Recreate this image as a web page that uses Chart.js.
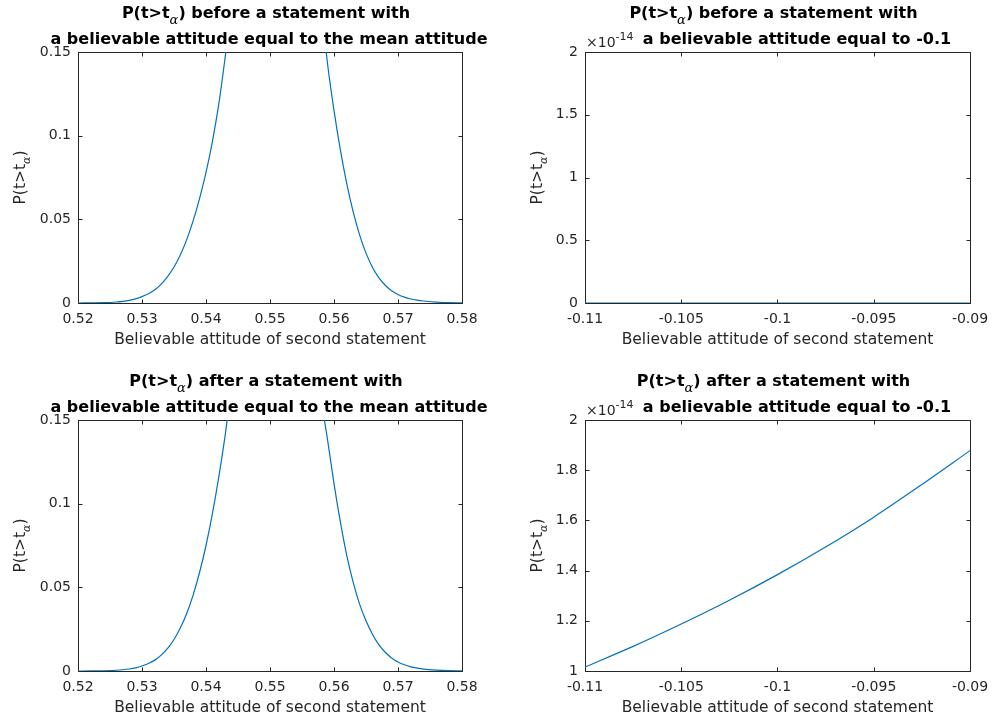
<!DOCTYPE html>
<html>
<head>
<meta charset="utf-8">
<title>P(t&gt;t_alpha) before and after a statement</title>
<script src="https://cdn.jsdelivr.net/npm/chart.js@4.4.1/dist/chart.umd.min.js"></script>
<style>
    html, body { margin: 0; padding: 0; background: #fff; overflow: hidden; }
    #fig { position: relative; width: 992px; height: 721px; background: #fff; }
    #fig canvas { position: absolute; }
</style>
</head>
<body>
<div id="fig">
    <canvas id="beforeMean" width="496" height="360" style="left:0;top:0"></canvas>
    <canvas id="beforeNeg" width="496" height="360" style="left:496px;top:0"></canvas>
    <canvas id="afterMean" width="496" height="361" style="left:0;top:360px"></canvas>
    <canvas id="afterNeg" width="496" height="361" style="left:496px;top:360px"></canvas>
</div>
<script>
/* ====================================
   Data
   ==================================== */

// Left column: second statement around the mean attitude
const meanTicksX = [0.52, 0.53, 0.54, 0.55, 0.56, 0.57, 0.58];
const meanTickLabelsX = ['0.52', '0.53', '0.54', '0.55', '0.56', '0.57', '0.58'];
const meanTicksY = [0, 0.05, 0.1, 0.15];
const meanTickLabelsY = ['0', '0.05', '0.1', '0.15'];

// the middle of each peak runs off the top of the axes
const beforeMeanX = [0.52, 0.522, 0.524, 0.526, 0.527, 0.528, 0.529, 0.53, 0.531, 0.532, 0.533, 0.534,
    0.535, 0.536, 0.537, 0.538, 0.539, 0.54, 0.541, 0.542, 0.543, 0.544, 0.551,
    0.558, 0.559, 0.56, 0.561, 0.562, 0.563, 0.564, 0.565, 0.566, 0.567, 0.568, 0.569,
    0.57, 0.571, 0.572, 0.573, 0.574, 0.576, 0.578, 0.58];
const beforeMeanP = [0, 0.0001, 0.0002, 0.0006, 0.001, 0.0016, 0.0025, 0.0038, 0.0055, 0.0079, 0.0113, 0.0158,
    0.0215, 0.0288, 0.038, 0.0492, 0.0625, 0.078, 0.0965, 0.119, 0.147, 0.178, 0.40,
    0.178, 0.1427, 0.1151, 0.0914, 0.0712, 0.0544, 0.0407, 0.0298, 0.0214, 0.0152, 0.0106, 0.0073,
    0.0051, 0.0035, 0.0024, 0.0017, 0.0012, 0.0005, 0.0002, 0.0001];

const afterMeanX = [0.52, 0.522, 0.524, 0.526, 0.527, 0.528, 0.529, 0.53, 0.531, 0.532, 0.533, 0.534,
    0.535, 0.536, 0.537, 0.538, 0.539, 0.54, 0.541, 0.542, 0.543, 0.544, 0.551,
    0.557, 0.558, 0.559, 0.56, 0.561, 0.562, 0.563, 0.564, 0.565, 0.566, 0.567, 0.568, 0.569,
    0.57, 0.571, 0.572, 0.573, 0.574, 0.576, 0.578, 0.58];
const afterMeanP = [0, 0.00004, 0.00015, 0.00045, 0.00075, 0.0012, 0.0019, 0.003, 0.0045, 0.0065, 0.0095, 0.0135,
    0.0188, 0.0258, 0.0345, 0.0455, 0.059, 0.075, 0.094, 0.116, 0.141, 0.17, 0.40,
    0.19, 0.162, 0.138, 0.112, 0.089, 0.069, 0.053, 0.04, 0.03, 0.022, 0.0158, 0.0112, 0.0078,
    0.0054, 0.0037, 0.0025, 0.0017, 0.0011, 0.0005, 0.0002, 0.0001];

// Right column: attitude equal to -0.1, y values in units of 1e-14
const negTicksX = [-0.11, -0.105, -0.1, -0.095, -0.09];
const negTickLabelsX = ['-0.11', '-0.105', '-0.1', '-0.095', '-0.09'];
const beforeNegTicksY = [0, 0.5, 1, 1.5, 2];
const beforeNegTickLabelsY = ['0', '0.5', '1', '1.5', '2'];
const afterNegTicksY = [1, 1.2, 1.4, 1.6, 1.8, 2];
const afterNegTickLabelsY = ['1', '1.2', '1.4', '1.6', '1.8', '2'];

const beforeNegX = [-0.11, -0.1, -0.09];
const beforeNegP = [0, 0, 0];
const afterNegX = [-0.11, -0.1075, -0.105, -0.1025, -0.1, -0.0975, -0.095, -0.0925, -0.09];
const afterNegP = [1.016, 1.098, 1.187, 1.282, 1.384, 1.494, 1.613, 1.743, 1.878];

const xLabel = 'Believable attitude of second statement';
const exponentLabel = '-14';

/* ====================================
   Styles
   ==================================== */
const LINE_COLOR = '#0072BD';
const AXIS_COLOR = '#262626';
const SANS = '"DejaVu Sans", sans-serif';
const TICK_FONT = { family: SANS, size: 14 };
const LABEL_FONT = { family: SANS, size: 15.5 };

/**
 * Draw a run of text pieces (normal text plus sub/superscripts) centred on cx
 */
function drawRich(ctx, parts, cx, baseline) {
    let total = 0;
    parts.forEach(p => {
        ctx.font = p.font;
        p.w = ctx.measureText(p.text).width;
        total += p.w;
    });
    let xPos = cx - total / 2;
    ctx.textAlign = 'left';
    ctx.textBaseline = 'alphabetic';
    parts.forEach(p => {
        ctx.font = p.font;
        ctx.fillText(p.text, xPos, baseline + (p.dy || 0));
        xPos += p.w;
    });
}

/**
 * MATLAB-style box, inward ticks, two line title, y label and exponent
 */
function matlabAxesPlugin(panel) {
    return {
        id: 'matlabAxes',
        beforeDatasetsDraw(chart) {
            const { ctx, chartArea: a, scales: { x, y } } = chart;
            const l = Math.round(a.left) + 0.5, r = Math.round(a.right) + 0.5;
            const t = Math.round(a.top) + 0.5, b = Math.round(a.bottom) + 0.5;
            const tick = 4;
            ctx.save();
            ctx.strokeStyle = AXIS_COLOR;
            ctx.lineWidth = 1;
            ctx.beginPath();
            x.ticks.forEach(tk => {
                const px = Math.round(x.getPixelForValue(tk.value)) + 0.5;
                ctx.moveTo(px, b); ctx.lineTo(px, b - tick);
                ctx.moveTo(px, t); ctx.lineTo(px, t + tick);
            });
            y.ticks.forEach(tk => {
                const py = Math.round(y.getPixelForValue(tk.value)) + 0.5;
                ctx.moveTo(l, py); ctx.lineTo(l + tick, py);
                ctx.moveTo(r, py); ctx.lineTo(r - tick, py);
            });
            ctx.rect(l, t, r - l, b - t);
            ctx.stroke();
            ctx.restore();
        },
        afterDraw(chart) {
            const { ctx, chartArea: a } = chart;
            const cx = (a.left + a.right) / 2;
            const bold = 'bold 16px ' + SANS;
            ctx.save();
            ctx.fillStyle = '#000';
            drawRich(ctx, [
                { text: 'P(t>t', font: bold },
                { text: 'α', font: 'italic 13px "DejaVu Serif", serif', dy: 6 },
                { text: ') ' + panel.title1, font: bold }
            ], cx - 4, a.top - 34);
            drawRich(ctx, [{ text: panel.title2, font: bold }], cx + panel.title2Shift, a.top - 8.5);

            // y label, rotated
            ctx.fillStyle = AXIS_COLOR;
            ctx.translate(panel.yLabelX, (a.top + a.bottom) / 2);
            ctx.rotate(-Math.PI / 2);
            const normal = LABEL_FONT.size + 'px ' + SANS;
            drawRich(ctx, [
                { text: 'P(t>t', font: normal },
                { text: 'α', font: 'italic 11px "DejaVu Serif", serif', dy: 5 },
                { text: ')', font: normal }
            ], 0, 0);
            ctx.restore();

            if (panel.exponent) {
                ctx.save();
                ctx.fillStyle = AXIS_COLOR;
                ctx.textAlign = 'left';
                ctx.textBaseline = 'alphabetic';
                ctx.font = '14px ' + SANS;
                const base = '×10';
                ctx.fillText(base, a.left + 1, a.top - 5.5);
                const w = ctx.measureText(base).width;
                ctx.font = '11px ' + SANS;
                ctx.fillText(panel.exponent, a.left + 1 + w, a.top - 12.5);
                ctx.restore();
            }
        }
    };
}

/**
 * Create one subplot
 */
function makePanel(canvasId, panel) {
    const ctx = document.getElementById(canvasId);
    if (!ctx) return;

    return new Chart(ctx, {
        type: 'line',
        data: {
            datasets: [{
                data: panel.xs.map((v, i) => ({ x: v, y: panel.ys[i] })),
                borderColor: LINE_COLOR,
                borderWidth: 1.2,
                pointRadius: 0,
                fill: false,
                cubicInterpolationMode: 'monotone'
            }]
        },
        options: {
            responsive: false,
            animation: false,
            events: [],
            layout: {
                padding: { top: panel.padTop, right: panel.padRight, left: 0, bottom: 0 }
            },
            plugins: {
                legend: { display: false },
                tooltip: { enabled: false },
                title: { display: false }
            },
            scales: {
                x: {
                    type: 'linear',
                    min: panel.xTicks[0],
                    max: panel.xTicks[panel.xTicks.length - 1],
                    afterBuildTicks: axis => { axis.ticks = panel.xTicks.map(v => ({ value: v })); },
                    afterFit: axis => {
                        axis.height = panel.xAxisHeight;
                        // edge labels may hang over, as in the original
                        axis.paddingLeft = 0;
                        axis.paddingRight = 0;
                    },
                    ticks: {
                        callback: (v, i) => panel.xTickLabels[i],
                        autoSkip: false,
                        maxRotation: 0,
                        minRotation: 0,
                        padding: 8,
                        font: TICK_FONT,
                        color: AXIS_COLOR
                    },
                    grid: { display: false, drawTicks: false, tickLength: 0 },
                    border: { display: false },
                    title: {
                        display: true,
                        text: xLabel,
                        font: LABEL_FONT,
                        color: AXIS_COLOR,
                        padding: { top: 0, bottom: panel.xTitlePad }
                    }
                },
                y: {
                    type: 'linear',
                    min: panel.yTicks[0],
                    max: panel.yTicks[panel.yTicks.length - 1],
                    afterBuildTicks: axis => { axis.ticks = panel.yTicks.map(v => ({ value: v })); },
                    afterFit: axis => {
                        axis.width = panel.yAxisWidth;
                        axis.paddingTop = 0;
                        axis.paddingBottom = 0;
                    },
                    ticks: {
                        callback: (v, i) => panel.yTickLabels[i],
                        autoSkip: false,
                        padding: 7,
                        font: TICK_FONT,
                        color: AXIS_COLOR
                    },
                    grid: { display: false, drawTicks: false, tickLength: 0 },
                    border: { display: false }
                }
            }
        },
        plugins: [matlabAxesPlugin(panel)]
    });
}

makePanel('beforeMean', {
    xs: beforeMeanX, ys: beforeMeanP,
    xTicks: meanTicksX, xTickLabels: meanTickLabelsX,
    yTicks: meanTicksY, yTickLabels: meanTickLabelsY,
    title1: 'before a statement with',
    title2: 'a believable attitude equal to the mean attitude', title2Shift: -1,
    padTop: 52, padRight: 34, yAxisWidth: 78, xAxisHeight: 57, xTitlePad: 10.7,
    yLabelX: 25
});

makePanel('beforeNeg', {
    xs: beforeNegX, ys: beforeNegP,
    xTicks: negTicksX, xTickLabels: negTickLabelsX,
    yTicks: beforeNegTicksY, yTickLabels: beforeNegTickLabelsY,
    title1: 'before a statement with',
    title2: 'a believable attitude equal to -0.1', title2Shift: 19.5,
    padTop: 52, padRight: 22, yAxisWidth: 89, xAxisHeight: 57, xTitlePad: 10.7,
    yLabelX: 46, exponent: exponentLabel
});

makePanel('afterMean', {
    xs: afterMeanX, ys: afterMeanP,
    xTicks: meanTicksX, xTickLabels: meanTickLabelsX,
    yTicks: meanTicksY, yTickLabels: meanTickLabelsY,
    title1: 'after a statement with',
    title2: 'a believable attitude equal to the mean attitude', title2Shift: -1,
    padTop: 60, padRight: 34, yAxisWidth: 78, xAxisHeight: 50, xTitlePad: 4,
    yLabelX: 25
});

makePanel('afterNeg', {
    xs: afterNegX, ys: afterNegP,
    xTicks: negTicksX, xTickLabels: negTickLabelsX,
    yTicks: afterNegTicksY, yTickLabels: afterNegTickLabelsY,
    title1: 'after a statement with',
    title2: 'a believable attitude equal to -0.1', title2Shift: 19.5,
    padTop: 60, padRight: 22, yAxisWidth: 89, xAxisHeight: 50, xTitlePad: 4,
    yLabelX: 46, exponent: exponentLabel
});
</script>
</body>
</html>
